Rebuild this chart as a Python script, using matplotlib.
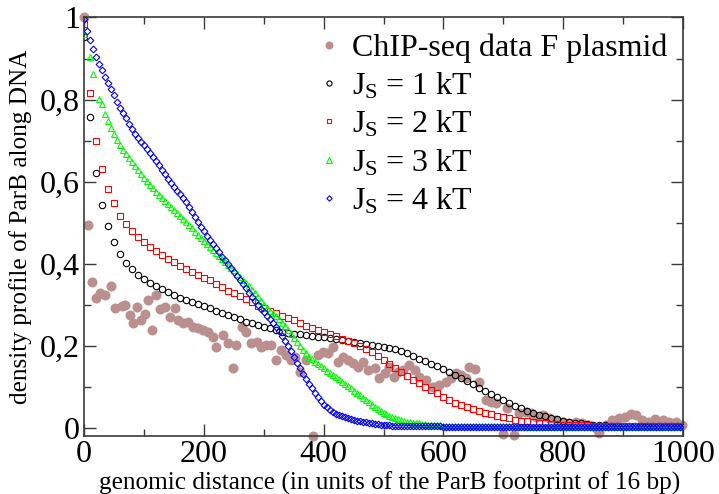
import matplotlib
matplotlib.use("Agg")
import matplotlib.pyplot as plt
from matplotlib.ticker import FixedLocator, FixedFormatter, MultipleLocator

# ---------------- data ----------------
chip_x = [0, 7, 14, 20, 27, 35, 45, 52, 63, 68, 76, 82, 88, 95, 102, 107, 113, 120, 127, 135,
          143, 152, 157, 165, 174, 182, 190, 199, 207, 215, 221, 232, 240, 249, 254, 263, 271,
          279, 288, 296, 304, 313, 321, 329, 338, 346, 353, 360, 371, 382, 391, 399, 407, 415,
          424, 432, 440, 449, 457, 466, 474, 485, 493, 502, 510, 518, 524, 532, 543, 552, 560,
          571, 582, 593, 604, 613, 621, 629, 638, 643, 652, 660, 671, 679, 688, 699, 707, 718,
          727, 738, 746, 754, 766, 777, 788, 799, 810, 821, 832, 843, 854, 860, 871, 882, 893,
          904, 913, 921, 932, 943, 954, 966, 977, 988, 999]
chip_y = [1.0, 0.494, 0.356, 0.315, 0.327, 0.323, 0.345, 0.291, 0.296, 0.299, 0.274, 0.254,
          0.293, 0.262, 0.278, 0.311, 0.238, 0.323, 0.288, 0.295, 0.270, 0.291, 0.262, 0.254,
          0.258, 0.246, 0.242, 0.238, 0.234, 0.221, 0.197, 0.226, 0.205, 0.144, 0.201, 0.246,
          0.234, 0.205, 0.209, 0.197, 0.201, 0.201, 0.165, 0.189, 0.177, 0.165, 0.173, 0.136,
          0.165, -0.020, 0.177, 0.185, 0.181, 0.197, 0.160, 0.173, 0.165, 0.157, 0.148, 0.160,
          0.140, 0.144, 0.120, 0.132, 0.148, 0.124, 0.136, 0.140, 0.152, 0.140, 0.124, 0.116,
          0.100, 0.104, 0.112, 0.120, 0.132, 0.128, 0.120, 0.147, 0.142, 0.112, 0.067, 0.063,
          0.059, -0.016, 0.047, -0.018, 0.035, 0.039, 0.035, 0.026, 0.030, 0.022, 0.018, 0.014,
          0.012, 0.014, 0.012, 0.006, -0.002, -0.014, 0.006, 0.018, 0.022, 0.026, 0.032, 0.030,
          0.018, 0.014, 0.020, 0.018, 0.014, 0.014, 0.006]

# J_S = 1 kT and 2 kT sampled every 10 units
x10 = list(range(0, 1001, 10))
js1 = [0.953, 0.757, 0.620, 0.543, 0.491, 0.452, 0.423, 0.402, 0.387, 0.372,
       0.361, 0.353, 0.345, 0.338, 0.330, 0.323, 0.317, 0.311, 0.306, 0.301,
       0.296, 0.291, 0.285, 0.280, 0.274, 0.270, 0.264, 0.258, 0.254, 0.249,
       0.245, 0.242, 0.238, 0.234, 0.231, 0.229, 0.227, 0.226, 0.224, 0.221,
       0.220, 0.218, 0.215, 0.213, 0.211, 0.208, 0.205, 0.204, 0.201, 0.199,
       0.197, 0.194, 0.192, 0.187, 0.181, 0.175, 0.168, 0.162, 0.155, 0.149,
       0.143, 0.136, 0.129, 0.121, 0.113, 0.105, 0.097, 0.089, 0.081, 0.074,
       0.067, 0.060, 0.053, 0.047, 0.041, 0.036, 0.031, 0.027, 0.023, 0.020,
       0.017, 0.014, 0.012, 0.010, 0.008, 0.007, 0.006, 0.005, 0.004, 0.004,
       0.003, 0.003, 0.003, 0.003, 0.003, 0.003, 0.003, 0.003, 0.003, 0.003,
       0.003]
js2 = [0.983, 0.817, 0.700, 0.630, 0.582, 0.547, 0.516, 0.496, 0.479, 0.464,
       0.452, 0.441, 0.431, 0.421, 0.412, 0.403, 0.395, 0.387, 0.380, 0.372,
       0.365, 0.359, 0.350, 0.342, 0.334, 0.327, 0.320, 0.313, 0.305, 0.297,
       0.291, 0.285, 0.279, 0.273, 0.267, 0.262, 0.255, 0.248, 0.242, 0.237,
       0.232, 0.227, 0.222, 0.217, 0.212, 0.206, 0.200, 0.192, 0.184, 0.174,
       0.165, 0.154, 0.144, 0.135, 0.126, 0.117, 0.108, 0.100, 0.092, 0.084,
       0.075, 0.067, 0.061, 0.055, 0.050, 0.045, 0.040, 0.036, 0.032, 0.029,
       0.025, 0.022, 0.019, 0.017, 0.015, 0.014, 0.012, 0.010, 0.009, 0.008,
       0.007, 0.006, 0.006, 0.005, 0.005, 0.004, 0.004, 0.004, 0.003, 0.003,
       0.003, 0.003, 0.003, 0.003, 0.003, 0.003, 0.003, 0.003, 0.003, 0.003,
       0.003]

# J_S = 3 kT and 4 kT sampled every 5 units
x5 = list(range(0, 1001, 5))
js3_x = [0, 10, 15] + list(range(25, 1001, 5))
js3 = [0.960, 0.903, 0.862,
       0.802, 0.788, 0.765, 0.748, 0.731, 0.715, 0.701, 0.688, 0.677, 0.667,
       0.657, 0.647, 0.637, 0.627, 0.618, 0.609, 0.601, 0.592, 0.584, 0.575,
       0.567, 0.559, 0.552, 0.545, 0.538, 0.531, 0.524, 0.517, 0.509, 0.502,
       0.494, 0.486, 0.478, 0.470, 0.463, 0.455, 0.448, 0.441, 0.434, 0.426,
       0.419, 0.412, 0.404, 0.397, 0.390, 0.383, 0.375, 0.368, 0.360, 0.352,
       0.344, 0.336, 0.327, 0.318, 0.309, 0.300, 0.292, 0.285, 0.279, 0.272,
       0.264, 0.256, 0.248, 0.239, 0.229, 0.219, 0.208, 0.199, 0.190, 0.181,
       0.173, 0.167, 0.161, 0.155, 0.149, 0.144, 0.139, 0.133, 0.128, 0.123,
       0.118, 0.112, 0.107, 0.101, 0.096, 0.090, 0.084, 0.079, 0.073, 0.068,
       0.062, 0.056, 0.051, 0.046, 0.041, 0.036, 0.032, 0.028, 0.025, 0.022,
       0.020, 0.018, 0.016, 0.014, 0.013, 0.012, 0.011, 0.010, 0.009, 0.008,
       0.007, 0.006, 0.006, 0.005, 0.005, 0.004, 0.004, 0.004, 0.004, 0.004,
       0.003, 0.003, 0.003, 0.003, 0.003, 0.003, 0.003, 0.003, 0.003, 0.003,
       0.003, 0.003, 0.003, 0.003, 0.003, 0.003, 0.003, 0.003, 0.003, 0.003,
       0.002, 0.002, 0.002, 0.002, 0.002, 0.002, 0.002, 0.002, 0.002, 0.002,
       0.002, 0.002, 0.002, 0.002, 0.002, 0.002, 0.002, 0.002, 0.002, 0.002,
       0.002, 0.002, 0.002, 0.002, 0.002, 0.002, 0.002, 0.002, 0.002, 0.002,
       0.002, 0.002, 0.002, 0.002, 0.002, 0.002, 0.002, 0.002, 0.002, 0.002,
       0.002, 0.002, 0.002, 0.002, 0.002, 0.002, 0.002, 0.002, 0.002, 0.002,
       0.002, 0.002, 0.002, 0.002, 0.002, 0.002]
js4 = [0.996, 0.968, 0.945, 0.922, 0.904, 0.887, 0.871, 0.855, 0.840, 0.825,
       0.810, 0.795, 0.780, 0.767, 0.754, 0.741, 0.728, 0.716, 0.706, 0.697,
       0.688, 0.679, 0.670, 0.660, 0.650, 0.640, 0.629, 0.618, 0.606, 0.596,
       0.587, 0.578, 0.569, 0.559, 0.549, 0.537, 0.526, 0.514, 0.502, 0.490,
       0.479, 0.468, 0.458, 0.448, 0.437, 0.427, 0.417, 0.408, 0.398, 0.389,
       0.380, 0.370, 0.360, 0.350, 0.340, 0.329, 0.319, 0.309, 0.299, 0.290,
       0.281, 0.272, 0.264, 0.256, 0.246, 0.235, 0.223, 0.212, 0.199, 0.186,
       0.171, 0.158, 0.144, 0.131, 0.118, 0.107, 0.096, 0.085, 0.074, 0.064,
       0.056, 0.049, 0.043, 0.038, 0.034, 0.031, 0.028, 0.025, 0.023, 0.021,
       0.019, 0.017, 0.016, 0.014, 0.013, 0.012, 0.010, 0.009, 0.008, 0.007,
       0.006, 0.005, 0.005, 0.004, 0.004, 0.003, 0.003, 0.003, 0.003, 0.003,
       0.003, 0.003, 0.003, 0.003, 0.003, 0.003, 0.003, 0.003, 0.003, 0.003,
       0.002, 0.002, 0.002, 0.002, 0.002, 0.002, 0.002, 0.002, 0.002, 0.002,
       0.002, 0.002, 0.002, 0.002, 0.002, 0.002, 0.002, 0.002, 0.002, 0.002,
       0.002, 0.002, 0.002, 0.002, 0.002, 0.002, 0.002, 0.002, 0.002, 0.002,
       0.002, 0.002, 0.002, 0.002, 0.002, 0.002, 0.002, 0.002, 0.002, 0.002,
       0.002, 0.002, 0.002, 0.002, 0.002, 0.002, 0.002, 0.002, 0.002, 0.002,
       0.002, 0.002, 0.002, 0.002, 0.002, 0.002, 0.002, 0.002, 0.002, 0.002,
       0.002, 0.002, 0.002, 0.002, 0.002, 0.002, 0.002, 0.002, 0.002, 0.002,
       0.002, 0.002, 0.002, 0.002, 0.002, 0.002, 0.002, 0.002, 0.002, 0.002,
       0.002]

series_labels = ["ChIP-seq data F plasmid",
                 r"J$_{\mathrm{S}}$ = 1 kT", r"J$_{\mathrm{S}}$ = 2 kT",
                 r"J$_{\mathrm{S}}$ = 3 kT", r"J$_{\mathrm{S}}$ = 4 kT"]
xticks = [0, 200, 400, 600, 800, 1000]
xtick_labels = ["0", "200", "400", "600", "800", "1000"]
yticks = [0, 0.2, 0.4, 0.6, 0.8, 1.0]
ytick_labels = ["0", "0,2", "0,4", "0,6", "0,8", "1"]
xlabel = "genomic distance (in units of the ParB footprint of 16 bp)"
ylabel = "density profile of ParB along DNA"

# ---------------- plot ----------------
plt.rcParams['font.family'] = ['Liberation Serif', 'DejaVu Serif']
plt.rcParams['mathtext.fontset'] = 'custom'
plt.rcParams['mathtext.rm'] = 'Liberation Serif'
plt.rcParams['mathtext.it'] = 'Liberation Serif:italic'

fig = plt.figure(figsize=(7.19, 4.94), dpi=100)
ax = fig.add_axes([84 / 719, 1 - 436 / 494, (683 - 84) / 719, (436 - 17.5) / 494])

ax.plot(chip_x, chip_y, 'o', color='#bc8f8f', ms=7.2, mew=0, label=series_labels[0],
        clip_on=False, zorder=2)
ax.plot(x10, js1, 'o', mfc='none', mec='black', ms=4.6, mew=0.8, label=series_labels[1], zorder=3)
ax.plot(x10, js2, 's', mfc='none', mec='#ff0000', ms=4.4, mew=0.8, label=series_labels[2], zorder=3)
ax.plot(js3_x, js3, '^', mfc='none', mec='#00ff00', ms=4.6, mew=0.8, label=series_labels[3], zorder=4)
ax.plot(x5, js4, 'D', mfc='none', mec='#0000ff', ms=3.4, mew=0.8, label=series_labels[4], zorder=5)

ax.set_xlim(0, 1000)
ax.set_ylim(-0.0207, 1.0)

ax.xaxis.set_major_locator(FixedLocator(xticks))
ax.xaxis.set_major_formatter(FixedFormatter(xtick_labels))
ax.xaxis.set_minor_locator(MultipleLocator(100))
ax.yaxis.set_major_locator(FixedLocator(yticks))
ax.yaxis.set_major_formatter(FixedFormatter(ytick_labels))
ax.yaxis.set_minor_locator(MultipleLocator(0.1))

spine_c = '#3a3a3a'
for s in ax.spines.values():
    s.set_color(spine_c)
    s.set_linewidth(1.2)
ax.tick_params(which='both', direction='in', top=True, right=True, color=spine_c, width=1.0)
ax.tick_params(which='major', length=8.5, labelsize=23, pad=3)
ax.tick_params(which='minor', length=5)

ax.set_xlabel(xlabel, fontsize=18.2)
ax.xaxis.set_label_coords(0.51, -0.085)
ax.set_ylabel(ylabel, fontsize=18.2)
ax.yaxis.set_label_coords(-0.087, 0.5)

leg = ax.legend(loc='upper left', bbox_to_anchor=(0.367, 0.993), frameon=False, fontsize=23,
                handlelength=0.8, handletextpad=0.3, labelspacing=0.25, markerscale=0.8,
                borderaxespad=0.0)

fig.savefig("out.png", dpi=100)
